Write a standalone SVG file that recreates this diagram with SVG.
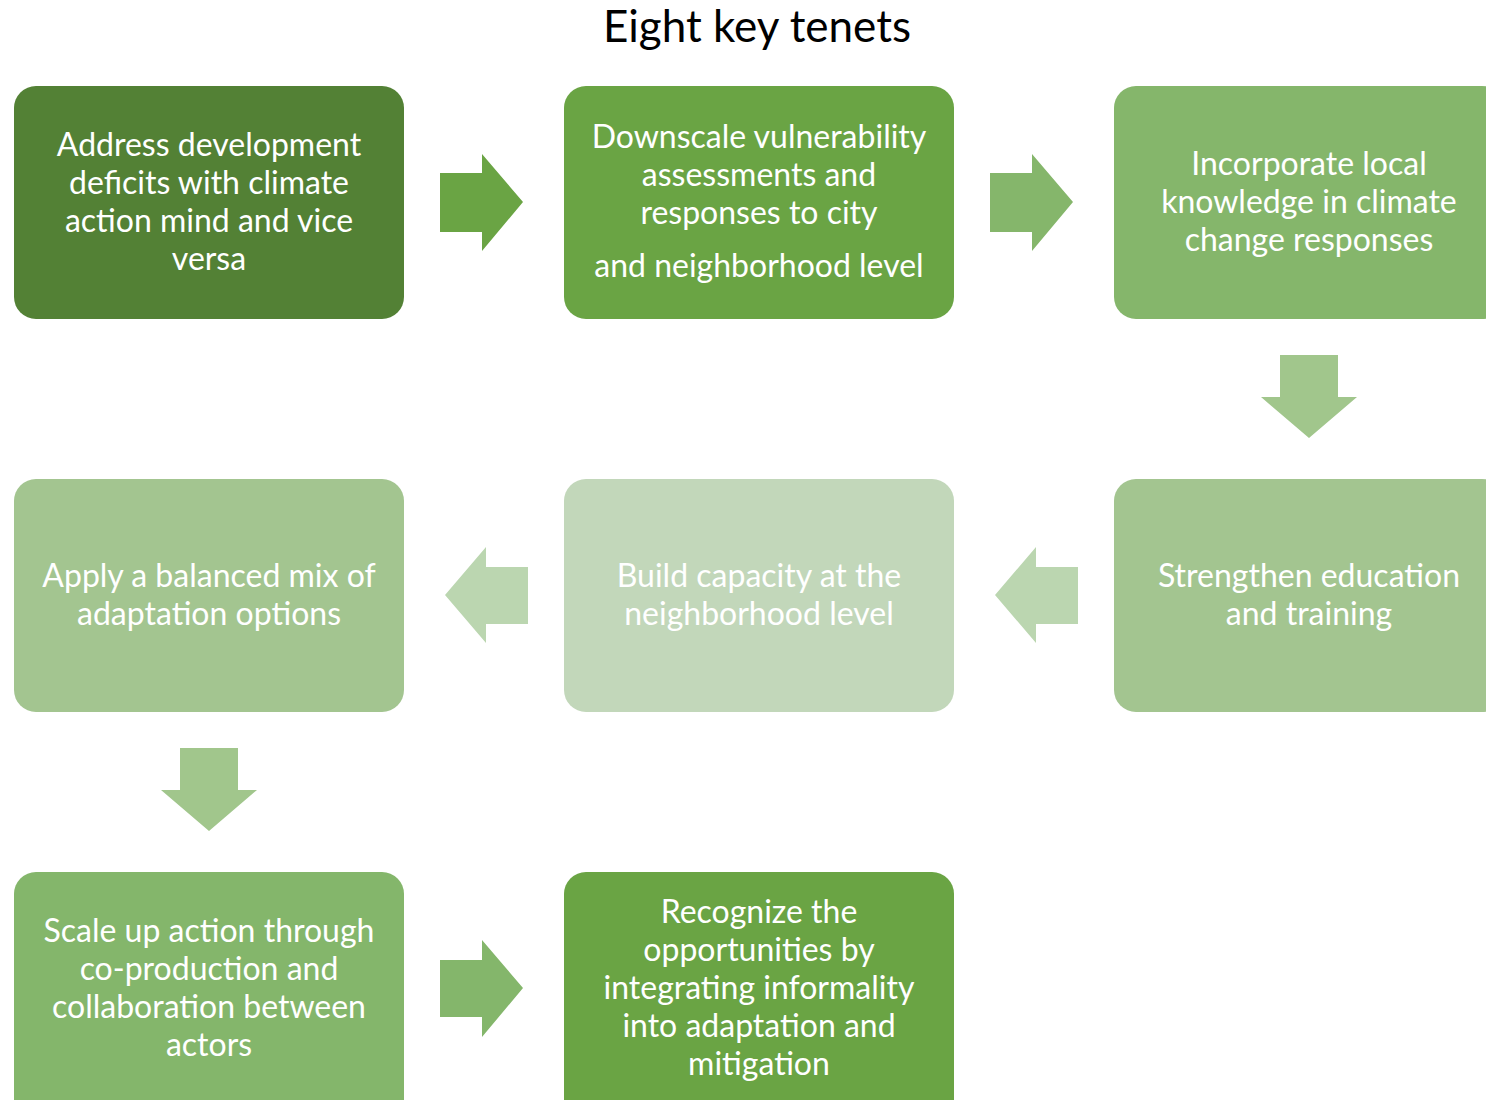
<svg xmlns="http://www.w3.org/2000/svg" width="1486" height="1100" viewBox="0 0 1486 1100">
<style>
.t{font-family:Lato,"Open Sans","Liberation Sans",sans-serif;font-size:32px;fill:#ffffff;text-anchor:middle}
.title{font-family:Lato,"Open Sans","Liberation Sans",sans-serif;font-size:44px;fill:#000000;text-anchor:middle}
</style>
<rect width="1486" height="1100" fill="#ffffff"/>
<text class="title" x="757" y="42">Eight key tenets</text>
<g id="n1"><rect x="14" y="86" width="390" height="233" rx="22" fill="#538135"/>
<text class="t" x="209" y="156">Address development</text><text class="t" x="209" y="194">deficits with climate</text><text class="t" x="209" y="232">action mind and vice</text><text class="t" x="209" y="270">versa</text></g>
<g id="n2"><rect x="564" y="86" width="390" height="233" rx="22" fill="#6aa444"/>
<text class="t" x="759" y="148">Downscale vulnerability</text><text class="t" x="759" y="186">assessments and</text><text class="t" x="759" y="224">responses to city</text><text class="t" x="759" y="277">and neighborhood level</text></g>
<g id="n3"><rect x="1114" y="86" width="390" height="233" rx="22" fill="#85b66b"/>
<text class="t" x="1309" y="175">Incorporate local</text><text class="t" x="1309" y="213">knowledge in climate</text><text class="t" x="1309" y="251">change responses</text></g>
<g id="n4"><rect x="1114" y="479" width="390" height="233" rx="22" fill="#a3c590"/>
<text class="t" x="1309" y="587">Strengthen education</text><text class="t" x="1309" y="625">and training</text></g>
<g id="n5"><rect x="564" y="479" width="390" height="233" rx="22" fill="#c2d7ba"/>
<text class="t" x="759" y="587">Build capacity at the</text><text class="t" x="759" y="625">neighborhood level</text></g>
<g id="n6"><rect x="14" y="479" width="390" height="233" rx="22" fill="#a3c590"/>
<text class="t" x="209" y="587">Apply a balanced mix of</text><text class="t" x="209" y="625">adaptation options</text></g>
<g id="n7"><rect x="14" y="872" width="390" height="250" rx="22" fill="#84b66b"/>
<text class="t" x="209" y="942">Scale up action through</text><text class="t" x="209" y="980">co-production and</text><text class="t" x="209" y="1018">collaboration between</text><text class="t" x="209" y="1056">actors</text></g>
<g id="n8"><rect x="564" y="872" width="390" height="250" rx="22" fill="#6aa444"/>
<text class="t" x="759" y="923">Recognize the</text><text class="t" x="759" y="961">opportunities by</text><text class="t" x="759" y="999">integrating informality</text><text class="t" x="759" y="1037">into adaptation and</text><text class="t" x="759" y="1075">mitigation</text></g>
<g id="connectors">
<polygon points="440,173 482,173 482,154 523,202 482,251 482,232 440,232" fill="#6aa444"/>
<polygon points="990,173 1032,173 1032,154 1073,202 1032,251 1032,232 990,232" fill="#85b66b"/>
<polygon points="1280,355 1338,355 1338,397 1357,397 1309,438 1261,397 1280,397" fill="#a1c68c"/>
<polygon points="1078,567 1036,567 1036,547 995,595 1036,643 1036,624 1078,624" fill="#bbd6b0"/>
<polygon points="528,567 486,567 486,547 445,595 486,643 486,624 528,624" fill="#bbd6b0"/>
<polygon points="180,748 238,748 238,790 257,790 209,831 161,790 180,790" fill="#a1c68c"/>
<polygon points="440,960 482,960 482,940 523,988 482,1037 482,1017 440,1017" fill="#84b66b"/>
</g>
</svg>
